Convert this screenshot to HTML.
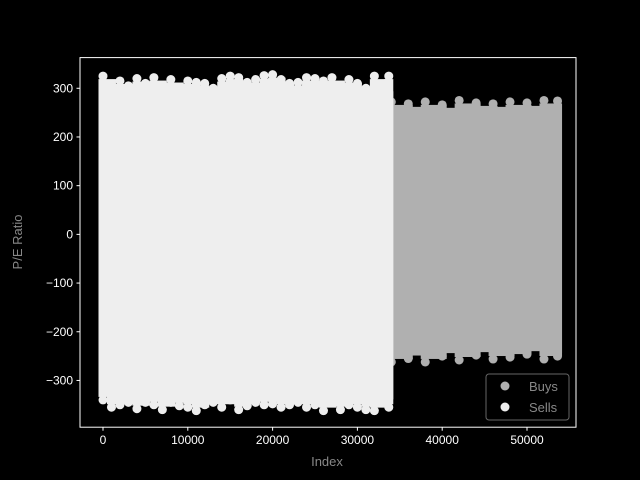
<!DOCTYPE html>
<html><head><meta charset="utf-8"><style>
body{margin:0;background:#000}
svg{display:block;font-family:"Liberation Sans","DejaVu Sans",sans-serif}
</style></head><body>
<svg id="c" width="640" height="480" viewBox="0 0 640 480">
<rect width="640" height="480" fill="#000"/>
<g id="marks"></g>
<rect x="80" y="57.6" width="496" height="369.6" fill="none" stroke="#fff" stroke-width="1"/>
<g id="axes"></g>
<text x="327" y="466" fill="#888" font-size="13" text-anchor="middle">Index</text>
<text x="22" y="242" fill="#888" font-size="13" text-anchor="middle" transform="rotate(-90 22 242)">P/E Ratio</text>
<g>
<rect x="486" y="374" width="83" height="46" rx="3" fill="#000" stroke="#666"/>
<circle cx="505" cy="386" r="4.5" fill="#b0b0b0"/>
<text x="529" y="391" fill="#888" font-size="13">Buys</text>
<circle cx="505" cy="407" r="4.5" fill="#eeeeee"/>
<text x="529" y="412" fill="#888" font-size="13">Sells</text>
</g>
</svg>
<script>
const xTicks=[0,10000,20000,30000,40000,50000];
const yTicks=[-300,-200,-100,0,100,200,300];
const buysIndex=[0,2000,4000,6000,8000,10000,12000,14000,16000,18000,20000,22000,24000,26000,28000,30000,32000,34000,36000,38000,40000,42000,44000,46000,48000,50000,52000,53600];
const buysTop=[265,270,262,268,272,266,270,268,264,270,266,272,268,270,264,268,270,272,268,272,266,275,270,268,272,270,275,274];
const buysBottom=[-255,-258,-250,-256,-252,-258,-254,-256,-250,-255,-258,-252,-256,-254,-258,-252,-256,-262,-255,-262,-250,-258,-248,-256,-252,-246,-256,-250];
const sellsIndex=[0,1000,2000,3000,4000,5000,6000,7000,8000,9000,10000,11000,12000,13000,14000,15000,16000,17000,18000,19000,20000,21000,22000,23000,24000,25000,26000,27000,28000,29000,30000,31000,32000,33000,33700];
const sellsTop=[325,300,315,305,320,310,322,305,318,300,315,312,310,300,320,325,322,312,318,326,328,318,310,312,322,320,315,322,305,318,310,300,325,300,325];
const sellsBottom=[-340,-355,-350,-345,-358,-345,-350,-360,-345,-352,-355,-362,-350,-345,-355,-340,-360,-352,-345,-350,-348,-355,-350,-345,-355,-350,-362,-345,-360,-350,-355,-360,-362,-345,-355];
const X0=80,X1=576,Y0=57.6,Y1=427.2;
const xMin=-2712,xMax=55778,yMin=-396,yMax=363;
const sx=v=>X0+(v-xMin)/(xMax-xMin)*(X1-X0);
const sy=v=>Y1-(v-yMin)/(yMax-yMin)*(Y1-Y0);
const NS='http://www.w3.org/2000/svg';
const marks=document.getElementById('marks'),axes=document.getElementById('axes');
function mk(t,a,p){const e=document.createElementNS(NS,t);for(const k in a)e.setAttribute(k,a[k]);p.appendChild(e);return e;}
function series(idx,top,bot,col,name){
  const g=mk('g',{},marks);
  
  
  for(let i=0;i<idx.length;i++){
    const xa=sx(idx[i]),xb=i<idx.length-1?sx(idx[i+1]):xa;
    const yt=sy(top[i])+3,yb=sy(bot[i])-3;
    const r=mk('rect',{x:xa-4.5,y:yt,width:Math.max(xb-xa,0)+9,height:yb-yt,fill:col},g);
    
    
    const c1=mk('circle',{cx:xa,cy:sy(top[i]),r:4.5,fill:col},g);
    
    
    const c2=mk('circle',{cx:xa,cy:sy(bot[i]),r:4.5,fill:col},g);
    
    
  }
}
series(buysIndex,buysTop,buysBottom,'#b0b0b0','buys');
series(sellsIndex,sellsTop,sellsBottom,'#eeeeee','sells');
xTicks.forEach(v=>{
  const l=mk('line',{x1:sx(v),x2:sx(v),y1:Y1,y2:Y1+3.5,stroke:'#fff'},axes);
  
  
  const t=mk('text',{x:sx(v),y:Y1+17,fill:'#fff','font-size':12,'text-anchor':'middle'},axes);
  t.textContent=v;
  
  
});
yTicks.forEach(v=>{
  const l=mk('line',{x1:X0-3.5,x2:X0,y1:sy(v),y2:sy(v),stroke:'#fff'},axes);
  
  
  const t=mk('text',{x:X0-7,y:sy(v)+4,fill:'#fff','font-size':12,'text-anchor':'end'},axes);
  t.textContent=v<0?'\u2212'+(-v):v;
  
  
});
</script>
</body></html>
